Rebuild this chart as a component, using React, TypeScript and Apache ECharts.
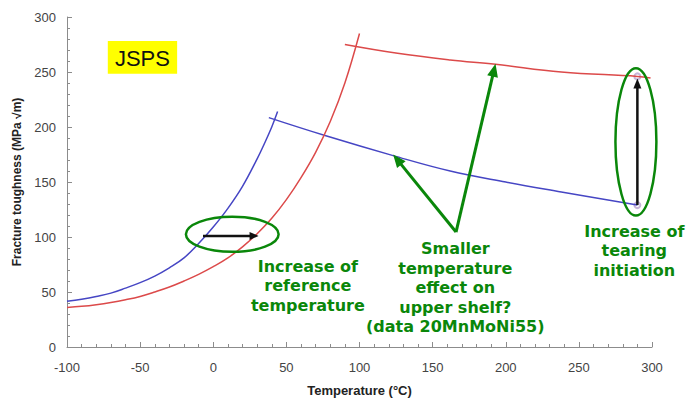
import React, { useEffect, useRef } from "react";
import * as echarts from "echarts";

// Axis ranges / ticks
const xMin = -100, xMax = 300, xStep = 50;
const yMin = 0, yMax = 300, yStep = 50;

// Blue curve (reference) – lower transition part
const blueLowerT = [-100, -90, -80, -70, -60, -50, -40, -30, -20, -10, 0, 10, 20, 30, 35, 40, 44];
const blueLowerK = [41.5, 43.5, 46, 49, 53.5, 58.5, 64.5, 72, 81, 94, 109, 126, 146, 171, 185, 200, 214];
// Blue curve – upper shelf
const blueUpperT = [38, 77, 123, 162, 200, 238, 290];
const blueUpperK = [208.5, 192, 174, 160, 150, 141, 129];

// Red curve (shifted) – lower transition part
const redLowerT = [-100, -90, -80, -70, -60, -50, -40, -30, -20, -10, 0, 10, 20, 30, 40, 50, 60, 70, 80, 90, 100];
const redLowerK = [36, 37, 38.5, 40.5, 43, 46, 50, 54.5, 60, 66, 73, 81, 91, 103, 117, 134, 154, 177, 205, 240, 285];
// Red curve – upper shelf
const redUpperT = [90, 126, 162, 193, 238, 290, 299];
const redUpperK = [275, 267, 261, 257, 250, 246, 244.5];

// Data points at 290 °C
const pointT = [290, 290];
const pointK = [129, 246];

const zip = (a: number[], b: number[]) => a.map((v, i) => [v, b[i]]);

const BLUE = "#4646c4";
const RED = "#dc4a4a";
const GREEN = "#0a870a";

export default function App() {
  const ref = useRef<HTMLDivElement>(null);
  useEffect(() => {
    const chart = echarts.init(ref.current!, null, { renderer: "svg" });
    const axisCommon = {
      axisLine: { show: true, onZero: false, lineStyle: { color: "#8c8c8c", width: 1 } },
      axisTick: { show: true, inside: true, length: 5, lineStyle: { color: "#8c8c8c" } },
      minorTick: { show: true, splitNumber: 5, length: 3, lineStyle: { color: "#8c8c8c" } },
      splitLine: { show: false },
      minorSplitLine: { show: false },
      nameTextStyle: { fontFamily: "Liberation Sans", fontWeight: "bold", color: "#222" },
    };
    chart.setOption({
      animation: false,
      backgroundColor: "#ffffff",
      grid: { left: 67, right: 36, top: 17, bottom: 51, containLabel: false, outerBoundsMode: "none" },
      xAxis: {
        type: "value",
        min: xMin,
        max: xMax,
        interval: xStep,
        name: "Temperature (°C)",
        nameLocation: "middle",
        nameGap: 37,
        ...axisCommon,
        nameTextStyle: { ...axisCommon.nameTextStyle, fontSize: 13 },
        axisLabel: { margin: 14, fontFamily: "Liberation Sans", fontSize: 13, color: "#444" },
      },
      yAxis: {
        type: "value",
        min: yMin,
        max: yMax,
        interval: yStep,
        name: "Fracture toughness (MPa √m)",
        nameLocation: "middle",
        nameGap: 39,
        ...axisCommon,
        nameTextStyle: { ...axisCommon.nameTextStyle, fontSize: 12 },
        axisLabel: { margin: 11, fontFamily: "Liberation Sans", fontSize: 13, color: "#444" },
      },
      series: [
        { type: "line", data: zip(blueLowerT, blueLowerK), smooth: 0.4, showSymbol: false, lineStyle: { color: BLUE, width: 1.5 } },
        { type: "line", data: zip(blueUpperT, blueUpperK), smooth: 0.4, showSymbol: false, lineStyle: { color: BLUE, width: 1.5 } },
        { type: "line", data: zip(redLowerT, redLowerK), smooth: 0.4, showSymbol: false, lineStyle: { color: RED, width: 1.5 } },
        { type: "line", data: zip(redUpperT, redUpperK), smooth: 0.4, showSymbol: false, lineStyle: { color: RED, width: 1.5 } },
        {
          type: "scatter",
          data: zip(pointT, pointK),
          symbol: "emptyCircle",
          symbolSize: 6,
          itemStyle: { color: "#b9a0d0", borderColor: "#b9a0d0", borderWidth: 1 },
          z: 1,
        },
      ],
    });

    const p = (x: number, y: number) => chart.convertToPixel({ gridIndex: 0 }, [x, y]) as number[];

    const arrow = (from: number[], to: number[], color: string, width: number, headLen: number, headW: number) => {
      const a = p(from[0], from[1]);
      const b = p(to[0], to[1]);
      const dx = b[0] - a[0], dy = b[1] - a[1];
      const len = Math.hypot(dx, dy);
      const ux = dx / len, uy = dy / len;
      const bx = b[0] - ux * headLen, by = b[1] - uy * headLen;
      const px = -uy, py = ux;
      return [
        { type: "line", shape: { x1: a[0], y1: a[1], x2: bx + ux, y2: by + uy }, style: { stroke: color, lineWidth: width }, z: 100 },
        {
          type: "polygon",
          shape: { points: [[b[0], b[1]], [bx + px * headW / 2, by + py * headW / 2], [bx - px * headW / 2, by - py * headW / 2]] },
          style: { fill: color },
          z: 100,
        },
      ];
    };

    const ellipse = (cx: number, cy: number, rxU: number, ryU: number) => {
      const c = p(cx, cy);
      const e = p(cx + rxU, cy + ryU);
      return {
        type: "ellipse",
        shape: { cx: c[0], cy: c[1], rx: Math.abs(e[0] - c[0]), ry: Math.abs(e[1] - c[1]) },
        style: { fill: "none", stroke: GREEN, lineWidth: 2.5 },
        z: 100,
      };
    };

    const label = (x: number, y: number, text: string) => {
      const c = p(x, y);
      return {
        type: "text",
        x: c[0],
        y: c[1],
        style: {
          text,
          fill: GREEN,
          font: 'bold 16px "DejaVu Sans"',
          textAlign: "center",
          textVerticalAlign: "top",
          align: "center",
          verticalAlign: "top",
          lineHeight: 19.5,
        },
        z: 100,
      };
    };

    const boxA = p(-72.1, 278.2);
    const boxB = p(-24.7, 248.5);

    chart.setOption({
      graphic: [
        {
          type: "rect",
          shape: { x: boxA[0], y: boxA[1], width: boxB[0] - boxA[0], height: boxB[1] - boxA[1] },
          style: { fill: "#ffff00" },
          z: 100,
        },
        {
          type: "text",
          x: (boxA[0] + boxB[0]) / 2,
          y: (boxA[1] + boxB[1]) / 2 + 1,
          style: {
            text: "JSPS",
            fill: "#111",
            font: '22px "Liberation Sans"',
            textAlign: "center",
            textVerticalAlign: "middle",
            align: "center",
            verticalAlign: "middle",
          },
          z: 101,
        },
        ellipse(13, 102.5, 31.7, 16),
        ...arrow([-7, 101], [31, 101], "#111", 2.5, 9, 8),
        ellipse(289, 186.5, 14, 67),
        ...arrow([290, 129], [290, 244], "#111", 2.5, 10, 8),
        ...arrow([166, 104.5], [123, 175], GREEN, 3, 13, 11),
        ...arrow([166, 104.5], [193, 257.5], GREEN, 3, 13, 11),
        label(64.7, 82.2, "Increase of\nreference\ntemperature"),
        label(165.5, 98.3, "Smaller\ntemperature\neffect on\nupper shelf?\n(data 20MnMoNi55)"),
        label(287.9, 114.3, "Increase of\ntearing\ninitiation"),
      ],
    });

    return () => chart.dispose();
  }, []);
  return <div ref={ref} style={{ position: "absolute", left: 0, top: 0, width: 688, height: 398 }} />;
}
